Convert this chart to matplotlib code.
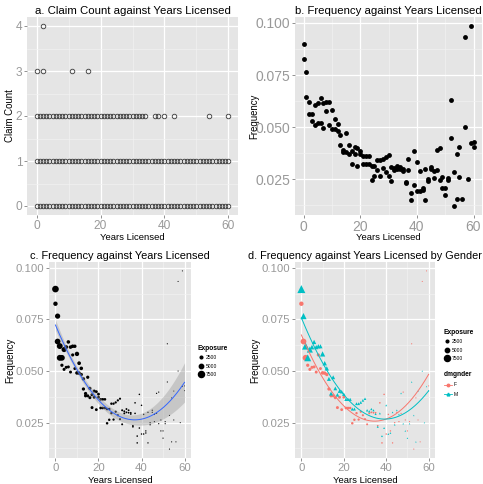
import numpy as np
import matplotlib
matplotlib.use("Agg")
import matplotlib.pyplot as plt
from matplotlib.lines import Line2D

plt.rcParams['font.family'] = ['Liberation Sans', 'DejaVu Sans']

nan = np.nan

# ---- data ----
years = np.arange(61)

# claim counts observed per years licensed
claims0_years = list(range(61))
claims1_years = list(range(61))
claims2_years = list(range(35)) + [37, 38, 40, 43, 54, 60]
claims3_years = [0, 2, 11, 16]
claims4_years = [2]

# claim frequency by gender
freq_m = [0.0897, 0.0766, 0.0621, 0.0564, 0.0604, 0.0616, 0.0641, 0.0616, 0.0620, 0.0620,
          0.0583, 0.0538, 0.0513, 0.0462, 0.0391, 0.0470, 0.0416, 0.0385, 0.0403, 0.0400,
          0.0388, 0.0363, 0.0363, 0.0363, 0.0316, 0.0316, 0.0342, 0.0342, 0.0348, 0.0358,
          0.0366, 0.0310, 0.0305, 0.0316, 0.0310, 0.0292, 0.0230, 0.0295, 0.0185, 0.0224,
          0.0334, 0.0195, 0.0200, 0.0300, 0.0240, 0.0310, 0.0290, 0.0392, 0.0245, 0.0210,
          0.0175, 0.0245, 0.0447, 0.0285, 0.0157, 0.0403, nan, 0.0500, 0.0250, 0.0425,
          0.0405]
freq_f = [0.0826, 0.0643, 0.0564, 0.0528, 0.0508, 0.0518, 0.0520, 0.0495, 0.0578, 0.0512,
          0.0491, 0.0490, 0.0483, 0.0413, 0.0380, 0.0380, 0.0371, 0.0323, 0.0373, 0.0313,
          0.0373, 0.0321, 0.0321, 0.0321, 0.0247, 0.0264, 0.0296, 0.0265, 0.0303, 0.0286,
          0.0267, 0.0242, 0.0295, 0.0300, 0.0298, 0.0298, 0.0235, 0.0346, 0.0152, 0.0387,
          0.0195, 0.0290, 0.0210, 0.0152, 0.0250, 0.0300, 0.0255, 0.0295, 0.0398, 0.0263,
          0.0210, 0.0255, 0.0632, 0.0122, 0.0370, 0.0263, 0.0157, 0.0934, nan, 0.0985,
          0.0428]

# exposure by gender
expo_m = [8300, 6200, 7200, 7000, 6000, 4200, 3800, 3800, 3800, 3600,
          5000, 4000, 3800, 3500, 3400, 3300, 3200, 3000, 3000, 2800,
          2800, 2600, 2500, 2400, 2300, 2200, 2100, 2000, 1900, 1800,
          1700, 1500, 1400, 1300, 1250, 1150, 1050, 950, 900, 820,
          760, 700, 640, 590, 540, 500, 460, 420, 380, 350,
          320, 290, 260, 240, 210, 190, nan, 150, 130, 110,
          100]
expo_f = [5000, 7000, 7200, 3300, 3000, 3000, 2900, 2900, 3200, 2800,
          3800, 3600, 3400, 3300, 3200, 3000, 3000, 2900, 2800, 2700,
          2600, 2500, 2400, 2300, 2200, 2100, 2000, 1900, 1800, 1700,
          1600, 1450, 1350, 1250, 1150, 1050, 980, 900, 830, 760,
          700, 640, 590, 540, 500, 460, 420, 380, 350, 320,
          290, 260, 240, 220, 200, 180, 160, 140, nan, 110,
          100]

expo_breaks = [2500, 5000, 7500]
col_f = '#F8766D'
col_m = '#00BFC4'

fm = np.array(freq_m); ff = np.array(freq_f)
em = np.array(expo_m, dtype=float); ef = np.array(expo_f, dtype=float)
ok_m = ~np.isnan(fm); ok_f = ~np.isnan(ff)
x_all = np.concatenate([years[ok_m], years[ok_f]]).astype(float)
y_all = np.concatenate([fm[ok_m], ff[ok_f]])
w_all = np.concatenate([em[ok_m], ef[ok_f]])


def diam(v):
    # point diameter in px -> markersize in pt
    return (1.0 + 0.00068 * np.asarray(v, dtype=float)) * 0.72


def wquad(x, y, w, xs):
    # weighted quadratic fit with standard error
    X = np.vstack([np.ones_like(x), x, x ** 2]).T
    W = np.diag(w)
    A = np.linalg.inv(X.T @ W @ X)
    b = A @ X.T @ W @ y
    r = y - X @ b
    s2 = np.sum(w * r ** 2) / (len(x) - 3)
    Xs = np.vstack([np.ones_like(xs), xs, xs ** 2]).T
    fit = Xs @ b
    se = np.sqrt(np.einsum('ij,jk,ik->i', Xs, s2 * A, Xs))
    return fit, se


W, H = 483, 484
fig = plt.figure(figsize=(W / 100, H / 100), dpi=100)


def box(l, t, r, b):
    return [l / W, 1 - b / H, (r - l) / W, (b - t) / H]


def style(ax, fs):
    ax.set_facecolor('#E5E5E5')
    for s in ax.spines.values():
        s.set_visible(False)
    ax.grid(which='major', color='white', lw=0.9)
    ax.grid(which='minor', color='#F2F2F2', lw=0.45)
    ax.set_axisbelow(True)
    ax.tick_params(which='major', length=2.2, width=0.6, color='#7f7f7f',
                   labelcolor='#999999', labelsize=fs, pad=1.2)
    ax.tick_params(which='minor', length=0)
    ax.set_xlim(-3, 63)
    ax.set_xticks([0, 20, 40, 60])
    ax.set_xticks([10, 30, 50], minor=True)


def labels(ax, l, t, r, b, ylab, ylab_x, xlab_base):
    ax.set_xlabel('Years Licensed', fontsize=6.8)
    ax.xaxis.label.set_va('baseline')
    ax.xaxis.set_label_coords(0.5, (b - xlab_base) / (b - t))
    ax.set_ylabel(ylab, fontsize=6.9)
    ax.yaxis.label.set(va='center', ha='center')
    ax.yaxis.set_label_coords((ylab_x - l) / (r - l), 0.5)


def freq_axis(ax):
    lo, hi = np.nanmin(y_all), np.nanmax(y_all)
    pad = (hi - lo) * 0.05
    ax.set_ylim(lo - pad, hi + pad)
    ax.set_yticks([0.025, 0.050, 0.075, 0.100])
    ax.set_yticklabels(['0.025', '0.050', '0.075', '0.100'])
    ax.set_yticks([0.0125, 0.0375, 0.0625, 0.0875], minor=True)


# a. claim count
pa = (27, 17, 238, 215)
ax = fig.add_axes(box(*pa))
style(ax, 8.6)
for c, yrs in enumerate([claims0_years, claims1_years, claims2_years, claims3_years, claims4_years]):
    ax.plot(yrs, [c] * len(yrs), 'o', ms=3.3, mfc='none', mec='#3a3a3a', mew=0.6)
ax.set_ylim(-0.2, 4.2)
ax.set_yticks([0, 1, 2, 3, 4])
ax.set_yticks([0.5, 1.5, 2.5, 3.5], minor=True)
labels(ax, *pa, 'Claim Count', 10, 240)
ax.set_title('a. Claim Count against Years Licensed', fontsize=8.2, pad=2)

# b. frequency
pb = (295, 17, 482, 215)
ax = fig.add_axes(box(*pb))
style(ax, 10)
ax.scatter(x_all, y_all, s=3.5 ** 2, c='black', lw=0)
freq_axis(ax)
labels(ax, *pb, 'Frequency', 254, 240)
ax.set_title('b. Frequency against Years Licensed', fontsize=8.2, pad=2)

# c. frequency sized by exposure, with weighted quadratic fit
xs = np.linspace(0, 60, 200)
pc = (49, 262, 191, 458)
ax = fig.add_axes(box(*pc))
style(ax, 8.2)
ax.scatter(x_all, y_all, s=diam(w_all) ** 2, c='black', lw=0)
fit, se = wquad(x_all, y_all, w_all, xs)
ax.fill_between(xs, fit - 1.98 * se, fit + 1.98 * se, color='#999999', alpha=0.4, lw=0)
ax.plot(xs, fit, color='#3366FF', lw=0.7)
freq_axis(ax)
labels(ax, *pc, 'Frequency', 10.5, 483)
ax.set_title('c. Frequency against Years Licensed', fontsize=7.9, pad=2)

h_size = [Line2D([], [], ls='none', marker='o', color='black', ms=diam(v)) for v in expo_breaks]
leg = fig.legend(h_size, [str(v) for v in expo_breaks], title='Exposure', loc='upper left',
                 bbox_to_anchor=(195 / W, 1 - 342 / H), frameon=False, fontsize=3.6,
                 title_fontsize=4.8, handlelength=1.2, handletextpad=0.4, labelspacing=0.7,
                 alignment='left', borderpad=0)
leg.get_title().set_fontweight('bold')

# d. by gender
pd_ = (295, 262, 435, 458)
ax = fig.add_axes(box(*pd_))
style(ax, 8.2)
ax.scatter(years[ok_f], ff[ok_f], s=diam(ef[ok_f]) ** 2, c=col_f, lw=0, marker='o')
ax.scatter(years[ok_m], fm[ok_m], s=(diam(em[ok_m]) * 1.2) ** 2, c=col_m, lw=0, marker='^')
fit_f, _ = wquad(years[ok_f].astype(float), ff[ok_f], ef[ok_f], xs)
fit_m, _ = wquad(years[ok_m].astype(float), fm[ok_m], em[ok_m], xs)
ax.plot(xs, fit_f, color=col_f, lw=0.7)
ax.plot(xs, fit_m, color=col_m, lw=0.7)
freq_axis(ax)
labels(ax, *pd_, 'Frequency', 255, 483)
ax.set_title('d. Frequency against Years Licensed by Gender', fontsize=7.8, pad=2)

leg1 = fig.legend(h_size, [str(v) for v in expo_breaks], title='Exposure', loc='upper left',
                  bbox_to_anchor=(441 / W, 1 - 326 / H), frameon=False, fontsize=3.6,
                  title_fontsize=4.8, handlelength=1.2, handletextpad=0.4, labelspacing=0.7,
                  alignment='left', borderpad=0)
leg1.get_title().set_fontweight('bold')
h_sex = [Line2D([], [], color=col_f, lw=0.6, marker='o', ms=1.8),
         Line2D([], [], color=col_m, lw=0.6, marker='^', ms=2.0)]
leg2 = fig.legend(h_sex, ['F', 'M'], title='dmgnder', loc='upper left',
                  bbox_to_anchor=(441 / W, 1 - 369 / H), frameon=False, fontsize=3.6,
                  title_fontsize=4.8, handlelength=1.6, handletextpad=0.4, labelspacing=0.8,
                  alignment='left', borderpad=0)
leg2.get_title().set_fontweight('bold')

fig.savefig('out.png', dpi=100)
